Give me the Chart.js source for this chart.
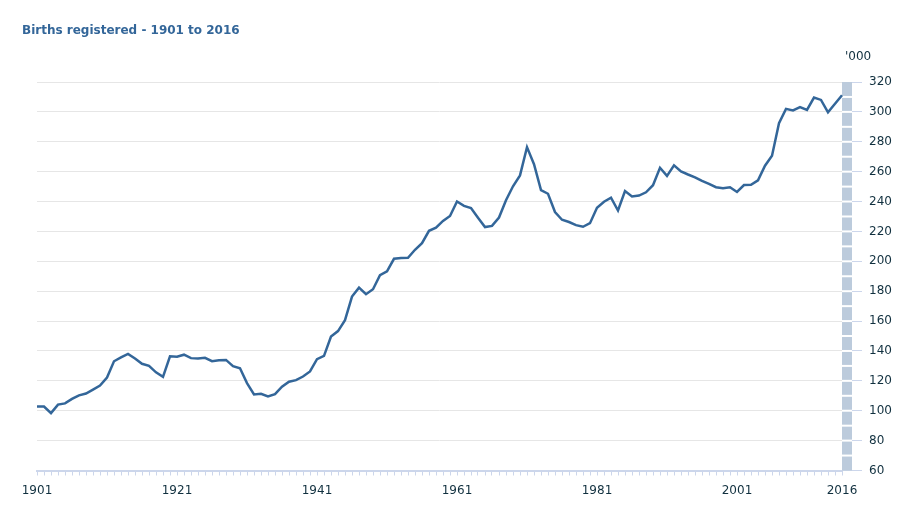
<!DOCTYPE html>
<html>
<head>
<meta charset="utf-8">
<script src="https://cdn.jsdelivr.net/npm/chart.js@4/dist/chart.umd.min.js"></script>
<style>
  body { margin: 0; background: #fff; }
  #wrap { position: relative; width: 903px; height: 505px; }
  #titulo { position: absolute; left: 22px; top: 23px; font: bold 12px "DejaVu Sans", sans-serif; line-height: 14px; color: #336699; }
  #unidad { position: absolute; left: 845px; top: 49px; font: 12px "DejaVu Sans", sans-serif; line-height: 14px; color: #11303f; }
</style>
</head>
<body>
<div id="wrap">
  <canvas id="birthsChart"></canvas>
  <div id="titulo">Births registered - 1901 to 2016</div>
  <div id="unidad">'000</div>
</div>
<script>
// years shown on the x axis
const firstYear = 1901;
const lastYear = 2016;
const years = Array.from({ length: lastYear - firstYear + 1 }, (_, i) => firstYear + i);
const labelYears = [1901, 1921, 1941, 1961, 1981, 2001, 2016];

// births registered ('000)
const births = [
  102.9, 102.8, 98.4, 104.1, 104.9, 107.9, 110.3, 111.5, 114.1, 116.8,
  122.2, 133.1, 135.7, 138.0, 134.9, 131.4, 130.0, 125.7, 122.7, 136.4,
  136.2, 137.5, 135.2, 134.9, 135.4, 133.2, 133.8, 134.0, 129.8, 128.4,
  118.5, 110.9, 111.3, 109.5, 111.1, 116.1, 119.4, 120.5, 122.9, 126.3,
  134.5, 136.7, 149.6, 153.3, 160.6, 176.4, 182.4, 178.0, 181.3, 190.7,
  193.3, 201.7, 202.2, 202.3, 207.7, 212.1, 220.4, 222.5, 227.0, 230.3,
  240.0, 237.1, 235.7, 229.1, 222.9, 223.7, 229.3, 240.9, 250.2, 257.5,
  276.4, 265.0, 247.7, 245.2, 233.0, 227.8, 226.3, 224.2, 223.1, 225.5,
  235.8, 239.9, 242.6, 234.0, 247.0, 243.4, 244.0, 246.2, 250.9, 262.6,
  257.2, 264.2, 260.2, 258.1, 256.2, 253.8, 251.8, 249.6, 248.9, 249.6,
  246.4, 251.0, 251.2, 254.2, 264.0, 270.6, 292.4, 302.0, 301.0, 303.2,
  301.3, 309.6, 308.0, 299.7, 305.4, 311.1
];

// y axis range
const yMin = 60;
const yMax = 320;
const yStep = 20;

// barra gris a la derecha del area del grafico, con cortes blancos cada medio paso
const axisBand = {
  id: 'axisBand',
  beforeDatasetsDraw(chart) {
    const { ctx, chartArea, scales } = chart;
    const y = scales.y;
    const top = y.getPixelForValue(y.max);
    const bottom = y.getPixelForValue(y.min);
    ctx.save();
    ctx.fillStyle = '#bccbdc';
    ctx.fillRect(chartArea.right, top, 10, bottom - top);
    const half = (y.ticks[1].value - y.ticks[0].value) / 2;
    ctx.strokeStyle = '#ffffff';
    ctx.lineWidth = 2;
    for (let v = y.min + half; v < y.max; v += half) {
      const py = y.getPixelForValue(v);
      ctx.beginPath();
      ctx.moveTo(chartArea.right, py);
      ctx.lineTo(chartArea.right + 10, py);
      ctx.stroke();
    }
    ctx.restore();
  }
};

function initChart() {
  const ctx = document.getElementById('birthsChart').getContext('2d');
  new Chart(ctx, {
    type: 'line',
    data: {
      labels: years,
      datasets: [{
        data: births,
        borderColor: '#336699',
        borderWidth: 2.5,
        pointRadius: 0,
        tension: 0,
        fill: false
      }]
    },
    options: {
      responsive: true,
      maintainAspectRatio: false,
      animation: false,
      layout: { padding: { left: 37, top: 82, right: 0, bottom: 0 } },
      plugins: { legend: { display: false }, tooltip: { enabled: false } },
      scales: {
        x: {
          type: 'category',
          offset: false,
          afterFit: (s) => { s.height = 34.5; },
          border: { color: '#ccd6eb', width: 2 },
          grid: { drawOnChartArea: false, tickLength: 5, color: '#ccd6eb', tickColor: '#ccd6eb' },
          ticks: {
            autoSkip: false,
            maxRotation: 0,
            padding: 8,
            color: '#11303f',
            font: { family: 'DejaVu Sans', size: 12 },
            callback: (val, idx) => labelYears.includes(years[idx]) ? String(years[idx]) : ''
          }
        },
        y: {
          position: 'right',
          min: yMin,
          max: yMax,
          afterFit: (s) => { s.width = 61; },
          border: { display: false },
          grid: { color: '#e6e6e6', tickColor: '#ccd6eb', tickLength: 20 },
          ticks: {
            stepSize: yStep,
            padding: 7,
            color: '#11303f',
            font: { family: 'DejaVu Sans', size: 12 }
          }
        }
      }
    },
    plugins: [axisBand]
  });
}

window.onload = () => {
  initChart();
};
</script>
</body>
</html>
